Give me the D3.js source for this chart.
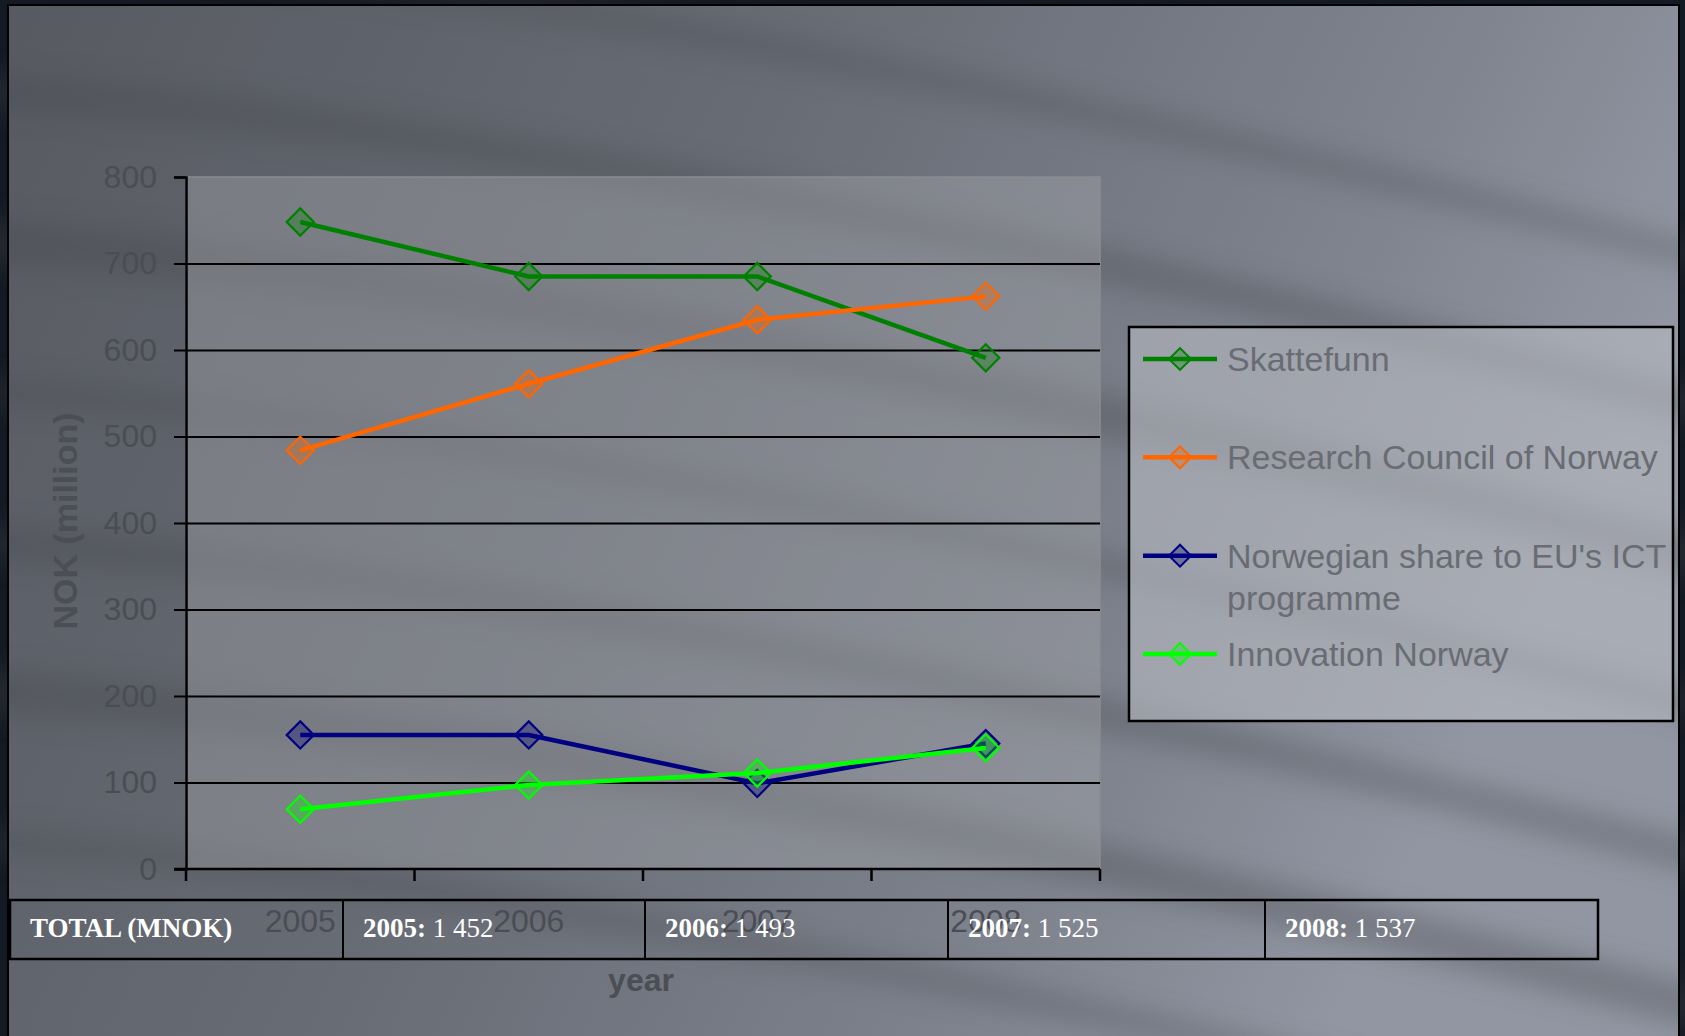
<!DOCTYPE html>
<html>
<head>
<meta charset="utf-8">
<script src="https://cdn.jsdelivr.net/npm/d3@7"></script>
<style>
  html, body { margin: 0; padding: 0; background: #151b24; }
  svg { display: block; }
</style>
</head>
<body>
<svg id="chart" width="1685" height="1036"></svg>
<script>
// dati (milioni di NOK)
const years = ['2005', '2006', '2007', '2008']
const seriesNames = ['Skattefunn', 'Research Council of Norway', "Norwegian share to EU's ICT programme", 'Innovation Norway']
const skattefunn = [748, 685, 685, 591]
const researchCouncil = [484, 561, 635, 662]
const euIct = [155, 155, 99, 145]
const innovationNorway = [69, 97, 111, 140]
const seriesColors = ['#008000', '#ff6600', '#000080', '#00ff00']
const yTicks = [0, 100, 200, 300, 400, 500, 600, 700, 800]
const totals = ['1 452', '1 493', '1 525', '1 537']

const svg = d3.select('#chart')
const W = 1685, H = 1036

// area del grafico
const plot = { left: 186, right: 1100, top: 177, bottom: 869 }

const tickColor = '#4a4d53'
const legendTextColor = '#696c73'

// ---- sfondo ----
const defs = svg.append('defs')
const bg = defs.append('linearGradient').attr('id', 'bg').attr('x1', 0).attr('x2', 1).attr('y1', 0).attr('y2', 0.3)
bg.append('stop').attr('offset', '0').attr('stop-color', '#575a61')
bg.append('stop').attr('offset', '0.45').attr('stop-color', '#686c75')
bg.append('stop').attr('offset', '0.8').attr('stop-color', '#7f838e')
bg.append('stop').attr('offset', '1').attr('stop-color', '#9296a2')

defs.append('filter').attr('id', 'blur').attr('x', '-20%').attr('y', '-50%').attr('width', '140%').attr('height', '200%')
  .append('feGaussianBlur').attr('stdDeviation', 14)

svg.append('rect').attr('width', W).attr('height', H).attr('fill', '#141a23')
svg.append('rect').attr('x', 8).attr('y', 5).attr('width', W - 14).attr('height', H)
  .attr('fill', 'url(#bg)')

// striature scure diagonali (solo decorative)
const streaks = svg.append('g').attr('filter', 'url(#blur)').attr('opacity', 0.35)
d3.range(7).forEach(i => {
  const y0 = -60 + i * 150
  streaks.append('path')
    .attr('d', `M-50,${y0} C400,${y0 + 20} 1100,${y0 + 160} 1750,${y0 + 330}`)
    .attr('fill', 'none')
    .attr('stroke', '#45474c')
    .attr('stroke-width', 22 + (i % 3) * 10)
})

svg.append('rect').attr('x', 8).attr('y', 5).attr('width', W - 14).attr('height', H)
  .attr('fill', 'none').attr('stroke', '#000').attr('stroke-width', 2)

// ---- scale ----
const xScale = d3.scalePoint().domain(years).range([plot.left, plot.right]).padding(0.5)
const xBand = d3.scaleBand().domain(years).range([plot.left, plot.right])
const yScale = d3.scaleLinear().domain([0, 800]).range([plot.bottom, plot.top])

// sfondo area grafico
svg.append('rect')
  .attr('x', plot.left).attr('y', plot.top)
  .attr('width', plot.right - plot.left).attr('height', plot.bottom - plot.top)
  .attr('fill', '#a3a5a9').attr('fill-opacity', 0.42)
  .attr('stroke', '#8b8c8f').attr('stroke-width', 1.5)

// griglia orizzontale
const grid = svg.append('g')
  .attr('transform', `translate(${plot.left},0)`)
  .call(d3.axisLeft(yScale).tickValues(yTicks.filter(t => t > 0 && t < 800))
    .tickSize(-(plot.right - plot.left)).tickFormat(''))
grid.select('.domain').remove()
grid.selectAll('.tick line').attr('stroke', '#000').attr('stroke-width', 2)

// asse y
const yAxis = svg.append('g')
  .attr('transform', `translate(${plot.left},0)`)
  .call(d3.axisLeft(yScale).tickValues(yTicks).tickSize(12).tickPadding(17))
yAxis.select('.domain').attr('stroke', '#000').attr('stroke-width', 2.5)
yAxis.selectAll('.tick line').attr('stroke', '#000').attr('stroke-width', 2)
yAxis.selectAll('.tick text')
  .attr('fill', tickColor)
  .style('font-family', '"Liberation Sans", Arial, sans-serif')
  .style('font-size', '32px')

// asse x (tacche ai bordi delle categorie)
const xEdges = years.map(d => xBand(d)).concat([xBand(years[years.length - 1]) + xBand.bandwidth()])
svg.append('line')
  .attr('x1', plot.left - 12).attr('x2', plot.right)
  .attr('y1', yScale(0)).attr('y2', yScale(0))
  .attr('stroke', '#000').attr('stroke-width', 2.5)
svg.append('g').selectAll('line').data(xEdges).enter().append('line')
  .attr('x1', d => d).attr('x2', d => d)
  .attr('y1', yScale(0)).attr('y2', yScale(0) + 12)
  .attr('stroke', '#000').attr('stroke-width', 2.5)

svg.append('g').selectAll('text').data(years).enter().append('text')
  .attr('x', d => xScale(d))
  .attr('y', 932)
  .attr('text-anchor', 'middle')
  .attr('fill', tickColor)
  .style('font-family', '"Liberation Sans", Arial, sans-serif')
  .style('font-size', '32px')
  .text(d => d)

// titoli assi
svg.append('text')
  .attr('transform', 'translate(65,521) rotate(-90)')
  .attr('text-anchor', 'middle')
  .attr('dominant-baseline', 'central')
  .attr('fill', '#4b4e54')
  .style('font-family', '"Liberation Sans", Arial, sans-serif')
  .style('font-size', '34px')
  .style('font-weight', 'bold')
  .text('NOK (million)')

svg.append('text')
  .attr('x', 641).attr('y', 991)
  .attr('text-anchor', 'middle')
  .attr('fill', '#4b4e54')
  .style('font-family', '"Liberation Sans", Arial, sans-serif')
  .style('font-size', '32px')
  .style('font-weight', 'bold')
  .text('year')

// ---- serie ----
const seriesValues = [skattefunn, researchCouncil, euIct, innovationNorway]
const series = seriesNames.map((name, i) => ({
  name: name,
  color: seriesColors[i],
  values: years.map((y, j) => ({ year: y, value: seriesValues[i][j] }))
}))

const line = d3.line().x(d => xScale(d.year)).y(d => yScale(d.value))
const diamond = d3.symbol().type(d3.symbolSquare).size(370)

series.forEach(s => {
  const g = svg.append('g')
  g.selectAll('path.marker').data(s.values).enter().append('path')
    .attr('class', 'marker')
    .attr('d', diamond)
    .attr('transform', d => `translate(${xScale(d.year)},${yScale(d.value)}) rotate(45)`)
    .attr('fill', s.color).attr('fill-opacity', 0.3)
    .attr('stroke', s.color).attr('stroke-width', 2.2)
  g.append('path')
    .datum(s.values)
    .attr('d', line)
    .attr('fill', 'none')
    .attr('stroke', s.color)
    .attr('stroke-width', 4.5)
    .attr('stroke-linejoin', 'round')
})

// ---- legenda ----
const legend = svg.append('g')
legend.append('rect')
  .attr('x', 1129).attr('y', 327).attr('width', 544).attr('height', 394)
  .attr('fill', '#b8bbc2').attr('fill-opacity', 0.6)
  .attr('stroke', '#000').attr('stroke-width', 2.5)

const legendY = d3.scaleLinear().domain([0, 3]).range([359, 654])
const legendDiamond = d3.symbol().type(d3.symbolSquare).size(240)
series.forEach((s, i) => {
  const cy = legendY(i)
  legend.append('line')
    .attr('x1', 1143).attr('x2', 1217).attr('y1', cy).attr('y2', cy)
    .attr('stroke', s.color).attr('stroke-width', 4.5)
  legend.append('path')
    .attr('d', legendDiamond)
    .attr('transform', `translate(1180,${cy}) rotate(45)`)
    .attr('fill', s.color).attr('fill-opacity', 0.3)
    .attr('stroke', s.color).attr('stroke-width', 2)
  const lines = s.name === "Norwegian share to EU's ICT programme"
    ? ["Norwegian share to EU's ICT", 'programme'] : [s.name]
  const t = legend.append('text')
    .attr('x', 1227).attr('y', cy)
    .attr('dominant-baseline', 'central')
    .attr('fill', legendTextColor)
    .style('font-family', '"Liberation Sans", Arial, sans-serif')
    .style('font-size', '34px')
  lines.forEach((l, k) => {
    t.append('tspan').attr('x', 1227).attr('dy', k === 0 ? 0 : 42).text(l)
  })
})

// ---- tabella totali ----
const table = svg.append('g')
const colEdges = [10, 343, 645, 948, 1265, 1598]
table.append('rect')
  .attr('x', colEdges[0]).attr('y', 900)
  .attr('width', colEdges[5] - colEdges[0]).attr('height', 59)
  .attr('fill', 'none').attr('stroke', '#000').attr('stroke-width', 2.5)
table.selectAll('line').data(colEdges.slice(1, 5)).enter().append('line')
  .attr('x1', d => d).attr('x2', d => d).attr('y1', 900).attr('y2', 959)
  .attr('stroke', '#000').attr('stroke-width', 2)

const cellText = table.selectAll('text').data(['TOTAL (MNOK)'].concat(years)).enter().append('text')
  .attr('x', (d, i) => colEdges[i] + 20)
  .attr('y', 937)
  .attr('fill', '#fff')
  .style('font-family', '"Liberation Serif", "Times New Roman", serif')
  .style('font-size', '27px')
cellText.each(function (d, i) {
  const t = d3.select(this)
  if (i === 0) {
    t.append('tspan').style('font-weight', 'bold').text(d)
  } else {
    t.append('tspan').style('font-weight', 'bold').text(d + ':')
    t.append('tspan').text(' ' + totals[i - 1])
  }
})
</script>
</body>
</html>
